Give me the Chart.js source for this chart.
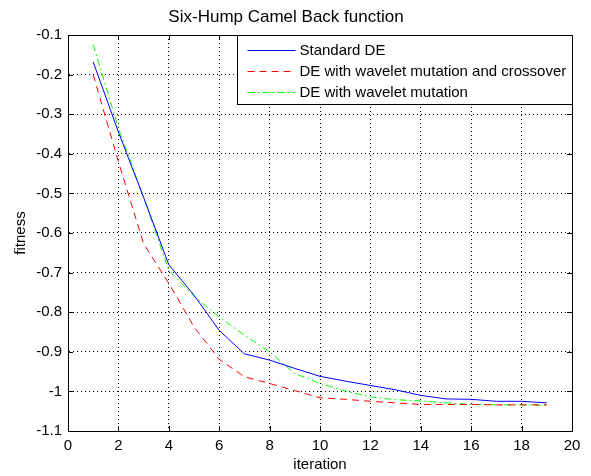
<!DOCTYPE html>
<html>
<head>
<meta charset="utf-8">
<script src="https://cdn.jsdelivr.net/npm/chart.js@4.4.1/dist/chart.umd.min.js"></script>
<style>
  body { margin: 0; background: #fff; }
  #wrap { width: 591px; height: 476px; }
</style>
</head>
<body>
<div id="wrap"><canvas id="c" width="591" height="476"></canvas></div>
<script>
// values
const iterations = [1, 2, 3, 4, 5, 6, 7, 8, 9, 10, 11, 12, 13, 14, 15, 16, 17, 18, 19];
const standardDE = [-0.168, -0.345, -0.510, -0.680, -0.757, -0.846, -0.905, -0.921, -0.942, -0.962,
  -0.974, -0.985, -0.996, -1.010, -1.019, -1.020, -1.025, -1.025, -1.029];
const waveletMutCross = [-0.200, -0.420, -0.627, -0.727, -0.837, -0.919, -0.963, -0.980, -0.998, -1.016,
  -1.020, -1.025, -1.029, -1.033, -1.033, -1.033, -1.034, -1.034, -1.034];
const waveletMut = [-0.124, -0.335, -0.510, -0.694, -0.760, -0.812, -0.858, -0.900, -0.955, -0.980,
  -0.999, -1.014, -1.021, -1.024, -1.029, -1.033, -1.034, -1.034, -1.035];
const seriesNames = ['Standard DE', 'DE with wavelet mutation and crossover', 'DE with wavelet mutation'];
const seriesColors = ['#0000ff', '#ff0000', '#00ff00'];
const seriesDash = [[], [7, 5], [7, 3, 2, 3]];

const FONT = 'Liberation Sans, Arial, sans-serif';

const toPoints = (vals) => vals.map((v, i) => ({ x: iterations[i], y: v }));

// box, inward tick marks and legend like the matlab figure
const matlabFrame = {
  id: 'matlabFrame',
  afterDraw(chart) {
    const { ctx, chartArea: a, scales } = chart;
    ctx.save();
    ctx.strokeStyle = '#000';
    ctx.lineWidth = 1;
    ctx.beginPath();
    scales.x.ticks.forEach(t => {
      const px = Math.round(scales.x.getPixelForValue(t.value)) + 0.5;
      ctx.moveTo(px, a.bottom); ctx.lineTo(px, a.bottom - 5);
      ctx.moveTo(px, a.top); ctx.lineTo(px, a.top + 5);
    });
    scales.y.ticks.forEach(t => {
      const py = Math.round(scales.y.getPixelForValue(t.value)) + 0.5;
      ctx.moveTo(a.left, py); ctx.lineTo(a.left + 5, py);
      ctx.moveTo(a.right, py); ctx.lineTo(a.right - 5, py);
    });
    ctx.stroke();
    ctx.strokeRect(Math.round(a.left) + 0.5, Math.round(a.top) + 0.5,
      Math.round(a.right - a.left), Math.round(a.bottom - a.top));

    // legend
    const w = 335, h = 69;
    const lx = Math.round(a.right) - w + 0.5, ly = Math.round(a.top) + 0.5;
    ctx.fillStyle = '#fff';
    ctx.fillRect(lx, ly, w, h);
    ctx.strokeRect(lx, ly, w, h);
    ctx.font = '15px ' + FONT;
    ctx.textBaseline = 'middle';
    seriesNames.forEach((name, i) => {
      const y = Math.round(ly + 14 + i * 21) + 0.5;
      ctx.save();
      ctx.strokeStyle = seriesColors[i];
      ctx.lineWidth = 1;
      ctx.setLineDash(seriesDash[i]);
      ctx.beginPath();
      ctx.moveTo(lx + 10, y);
      ctx.lineTo(lx + 58, y);
      ctx.stroke();
      ctx.restore();
      ctx.fillStyle = '#000';
      ctx.fillText(name, lx + 62, y);
    });
    ctx.restore();
  }
};

new Chart(document.getElementById('c'), {
  type: 'line',
  data: {
    datasets: seriesNames.map((name, i) => ({
      label: name,
      data: toPoints([standardDE, waveletMutCross, waveletMut][i]),
      borderColor: seriesColors[i],
      borderWidth: 1,
      borderDash: seriesDash[i],
    })),
  },
  options: {
    responsive: false,
    animation: false,
    layout: { padding: { left: 0, right: 19, top: 0, bottom: 0 } },
    elements: { point: { radius: 0 }, line: { tension: 0 } },
    plugins: {
      legend: { display: false },
      tooltip: { enabled: false },
      title: {
        display: true,
        text: 'Six-Hump Camel Back function',
        color: '#000',
        font: { size: 17, family: FONT, weight: 'normal' },
        padding: { top: 7, bottom: 7.6 },
      },
    },
    scales: {
      x: {
        type: 'linear',
        min: 0, max: 20,
        afterFit: (s) => { s.height = 45; },
        ticks: { stepSize: 2, color: '#000', padding: 6, font: { size: 15, family: FONT } },
        grid: { color: '#000', lineWidth: 1, drawTicks: false },
        border: { color: '#000', dash: [1, 3] },
        title: { display: true, text: 'iteration', color: '#000', padding: { top: 0, bottom: 2 }, font: { size: 15, family: FONT } },
      },
      y: {
        min: -1.1, max: -0.1,
        afterFit: (s) => { s.width = 68; },
        ticks: {
          stepSize: 0.1, color: '#000', padding: 6, font: { size: 15, family: FONT },
          callback: (v) => String(parseFloat(v.toFixed(1))),
        },
        grid: { color: '#000', lineWidth: 1, drawTicks: false },
        border: { color: '#000', dash: [1, 3] },
        title: { display: true, text: 'fitness', color: '#000', padding: { top: 12, bottom: 0 }, font: { size: 15, family: FONT } },
      },
    },
  },
  plugins: [matlabFrame],
});
</script>
</body>
</html>
